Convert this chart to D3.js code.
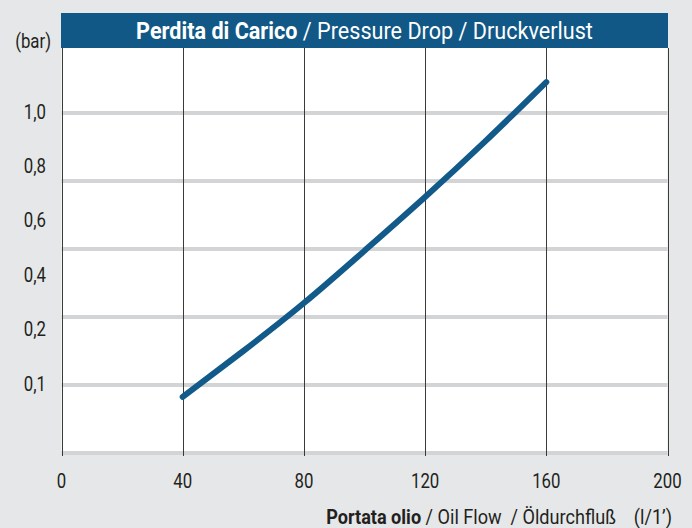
<!DOCTYPE html>
<meta charset="utf-8">
<style>
body { margin: 0; background: #e6e7e8; }
svg { display: block; }
text { font-family: Roboto, "DejaVu Sans Condensed", sans-serif; fill: #231f20; }
.grid-h { stroke: #d3d4d6; stroke-width: 4; }
.grid-v { stroke: #3a3a3a; stroke-width: 1; shape-rendering: crispEdges; }
</style>
<svg width="692" height="528"></svg>
<script src="https://d3js.org/d3.v7.min.js"></script>
<script>

// flow (l/min) and pressure drop
var flow = [40, 60, 80, 100, 120, 140, 160];
var drop = [0.165, 0.300, 0.441, 0.595, 0.753, 0.918, 1.091];

var xTicks = [0, 40, 80, 120, 160, 200];
var gridValues = [0, 0.2, 0.4, 0.6, 0.8, 1.0];
var yLabels = ["1,0", "0,8", "0,6", "0,4", "0,2", "0,1"];

var svg = d3.select("svg");

var x = d3.scaleLinear().domain([0, 200]).range([61.5, 667.5]);
var y = d3.scaleLinear().domain([0, 1.2]).range([453, 45]);
var yLab = d3.scalePoint().domain(yLabels).range([111, 383]);

var narrow = 0.8;

// fit a text element to a given width by squeezing it horizontally
function squeeze(sel, ax, ay, w) {
  var len = sel.node().getComputedTextLength();
  sel.attr("transform", "translate(" + ax + "," + ay + ") scale(" + (w / len) + ",1)");
}

// plot area
svg.append("rect")
    .attr("x", x(0))
    .attr("y", 48)
    .attr("width", x(200) - x(0))
    .attr("height", y(0) - 48)
    .attr("fill", "#fff");

svg.selectAll(".grid-h")
  .data(gridValues)
  .enter().append("line")
    .attr("class", "grid-h")
    .attr("x1", x(0))
    .attr("x2", x(200))
    .attr("y1", function(d) { return y(d); })
    .attr("y2", function(d) { return y(d); });

svg.selectAll(".grid-v")
  .data(xTicks)
  .enter().append("line")
    .attr("class", "grid-v")
    .attr("x1", function(d) { return Math.round(x(d)) + 0.5; })
    .attr("x2", function(d) { return Math.round(x(d)) + 0.5; })
    .attr("y1", 48)
    .attr("y2", 456)
    .attr("stroke", function(d) { return d == 200 ? "#8a8a8a" : null; });

// title bar
svg.append("rect")
    .attr("x", 61)
    .attr("y", 13)
    .attr("width", 607)
    .attr("height", 35)
    .attr("fill", "#115886");

var title = svg.append("text")
    .attr("text-anchor", "middle")
    .style("font-size", "24px");
title.append("tspan").style("fill", "#fff").attr("font-weight", "bold").text("Perdita di Carico");
title.append("tspan").style("fill", "#fff").text(" / Pressure Drop / Druckverlust");
squeeze(title, 364.5, 39, 457);

// curve
var line = d3.line()
    .x(function(d, i) { return x(flow[i]); })
    .y(function(d) { return y(d); })
    .curve(d3.curveNatural);

svg.append("path")
    .datum(drop)
    .attr("d", line)
    .attr("fill", "none")
    .attr("stroke", "#125a89")
    .attr("stroke-width", 6)
    .attr("stroke-linecap", "round");

// y labels
svg.selectAll(".ylab")
  .data(yLabels)
  .enter().append("text")
    .attr("class", "ylab")
    .attr("transform", function(d) { return "translate(46," + yLab(d) + ") scale(" + narrow + ",1)"; })
    .attr("dy", "0.36em")
    .attr("text-anchor", "end")
    .style("font-size", "21px")
    .text(function(d) { return d; });

svg.append("text")
    .attr("transform", "translate(51,40) scale(" + narrow + ",1)")
    .attr("dy", "0.36em")
    .attr("text-anchor", "end")
    .style("font-size", "21px")
    .text("(bar)");

// x labels
svg.selectAll(".xlab")
  .data(xTicks)
  .enter().append("text")
    .attr("class", "xlab")
    .attr("transform", function(d) { return "translate(" + x(d) + ",480) scale(" + narrow + ",1)"; })
    .attr("dy", "0.36em")
    .attr("text-anchor", "middle")
    .style("font-size", "21px")
    .text(function(d) { return d; });

var xt = svg.append("text")
    .attr("text-anchor", "end")
    .style("font-size", "20px")
    .attr("xml:space", "preserve");
xt.append("tspan").attr("font-weight", "bold").text("Portata olio");
xt.append("tspan").text(" / Oil Flow  / Öldurchfluß    (l/1’)");
squeeze(xt, 672, 524, 346);

</script>
